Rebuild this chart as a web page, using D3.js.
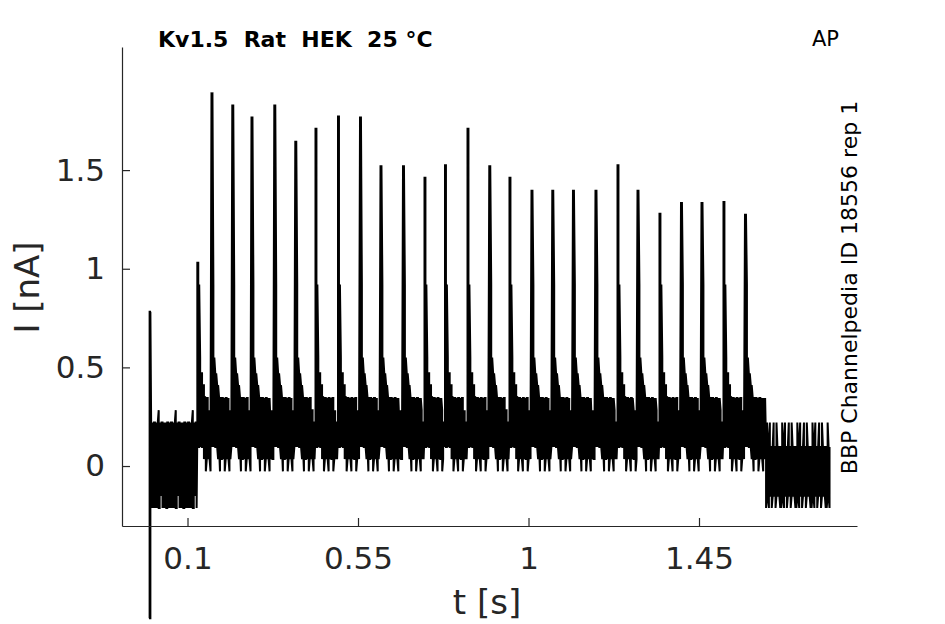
<!DOCTYPE html>
<html><head><meta charset="utf-8">
<script src="https://cdn.jsdelivr.net/npm/d3@7"></script>
<style>
body{margin:0;background:#fff}
svg{display:block;font-family:"DejaVu Sans",sans-serif}
</style>
</head><body>
<svg id="chart" width="945" height="624"></svg>
<script>
// ---------- data ----------
const xTicks = [0.1, 0.55, 1, 1.45];
const xTickLabels = ["0.1", "0.55", "1", "1.45"];
const yTicks = [0, 0.5, 1, 1.5];
const yTickLabels = ["0", "0.5", "1", "1.5"];

// stimulus artefact at t = 0 (nA)
const artefact = [0.782, -0.772];
// stimulus window (s) and end of recording
const stimWindow = [0.1245, 1.627];
const traceEnd = 1.796;

// action-potential-evoked current peaks
const spikeTimes = [0.1259, 0.1633, 0.2182, 0.2689, 0.3291, 0.3845, 0.4378, 0.4972, 0.5553,
  0.6094, 0.6688, 0.7255, 0.7796, 0.8390, 0.8965, 0.9498, 1.0079, 1.0628, 1.1174, 1.1768,
  1.2349, 1.2877, 1.3457, 1.4025, 1.4566, 1.5146, 1.5714];
const spikePeaks = [1.03, 1.894, 1.833, 1.772, 1.833, 1.649, 1.710, 1.772, 1.772,
  1.524, 1.524, 1.461, 1.524, 1.710, 1.524, 1.461, 1.400, 1.400, 1.400, 1.400,
  1.524, 1.400, 1.279, 1.338, 1.338, 1.338, 1.279];
// decay right after each peak (nA, 2.5 ms steps)
const spikeTail = [0.92, 0.55, 0.47, 0.47, 0.41, 0.41, 0.35];

// quantised recording levels: value = 0.035 + 0.062 * code
// pre-stimulus noise band (codes, 2.5 ms steps)
const preHi = [3, 3, 1, 3, 3, 3, 1, 3, 4, 3, 1, 3, 3, 2, 3, 3, 1, 3];
const preLo = [-4, -3, -4, -3, -4, -2, -4, -3, -4, -4, -3, -2, -4, -3, -4, -3, -4, -4];
// noise band between spikes (codes, 2.5 ms steps after each peak)
const stimHi = [9, 9, 9, 9, 9, 9, 9, 9, 5, 5, 5, 5, 5, 3, 5, 5, 5, 4, 5, 5, 3, 5, 5, 4, 5, 5];
const stimLo = [1, 1, 1, 2, 1, 1, 1, 0, 1, -1, 0, 0, 1, 0, -1, 0, 1, 0, 0, -1, 0, 1, 0, 0, -1, 0];
// just before the next peak
const preSpikeHi = [4, 3, 3];
// post-stimulus noise band (codes)
const postHi = [1, 3, 1, 1, 3, 1, 1, 1, 3, 1, 1, 3, 1, 1, 1, 1];
const postLo = [-4, -3, -3, -4, -3, -3, -4, -3, -3, -3, -4, -3, -3, -3, -3, -4];

// ---------- build trace ----------
const STEP = 0.0025, Q = 0.062, OFF = 0.035;
const lvl = k => OFF + Q * k;
const cols = [];
[0, 0.001, 0.002].forEach(t => cols.push({t, lo: artefact[1], hi: artefact[0]}));
{
  let i = 0;
  for (let t = 0.004; t < spikeTimes[0] - 1e-9; t += STEP, i++) {
    cols.push({t, lo: lvl(preLo[i % preLo.length]), hi: lvl(preHi[i % preHi.length])});
  }
}
spikeTimes.forEach((s, j) => {
  const end = j < spikeTimes.length - 1 ? spikeTimes[j + 1] : stimWindow[1];
  const n = Math.round((end - s) / STEP);
  const last = j < spikeTimes.length - 1;
  for (let r = 0; r < n; r++) {
    const t = s + r * (end - s) / n;
    let hi, lo;
    const idx = r < stimHi.length ? r : 8 + ((r - 8) % (stimHi.length - 8));
    lo = lvl(stimLo[idx]);
    if (r <= 1) hi = spikePeaks[j];
    else if (r - 2 < spikeTail.length) hi = spikeTail[r - 2];
    else if (last && r >= n - preSpikeHi.length) hi = lvl(preSpikeHi[r - (n - preSpikeHi.length)]);
    else hi = lvl(stimHi[idx]);
    if (r === 0) lo = lvl(2);
    cols.push({t, lo, hi});
  }
});
{
  let i = 0;
  for (let t = stimWindow[1]; t <= traceEnd; t += STEP, i++) {
    cols.push({t, lo: lvl(postLo[i % postLo.length]), hi: lvl(postHi[i % postHi.length])});
  }
}
const pts = [];
cols.forEach((c, i) => {
  if (i % 2 === 0) { pts.push([c.t, c.lo]); pts.push([c.t, c.hi]); }
  else { pts.push([c.t, c.hi]); pts.push([c.t, c.lo]); }
});

// ---------- draw ----------
const svg = d3.select("#chart");
const x = d3.scaleLinear().domain([-0.0729, 1.867]).range([122, 857]);
const y = d3.scaleLinear().domain([-0.304, 2.124]).range([526, 47]);
const ink = "#262626";

svg.append("path")
  .attr("d", d3.line().x(d => x(d[0])).y(d => y(d[1]))(pts))
  .attr("fill", "none").attr("stroke", "#000").attr("stroke-width", 2)
  .attr("stroke-linejoin", "miter");

const xAxis = svg.append("g").attr("transform", "translate(0,526)")
  .call(d3.axisBottom(x).tickValues(xTicks).tickFormat((d, i) => xTickLabels[i])
    .tickSizeInner(-8).tickSizeOuter(0).tickPadding(21));
const yAxis = svg.append("g").attr("transform", "translate(122,0)")
  .call(d3.axisLeft(y).tickValues(yTicks).tickFormat((d, i) => yTickLabels[i])
    .tickSizeInner(-8).tickSizeOuter(0).tickPadding(17));
[xAxis, yAxis].forEach(g => {
  g.select(".domain").attr("stroke", ink).attr("stroke-width", 1.2);
  g.selectAll(".tick line").attr("stroke", ink).attr("stroke-width", 1.2);
  g.selectAll(".tick text").attr("fill", ink).style("font-size", "31px")
    .style("font-family", "DejaVu Sans");
});

svg.append("text").attr("x", 487).attr("y", 614).attr("text-anchor", "middle")
  .attr("fill", ink).style("font-size", "34px").text("t [s]");
svg.append("text").attr("transform", "translate(38.5,287.5) rotate(-90)")
  .attr("text-anchor", "middle").attr("fill", ink).style("font-size", "34px").text("I [nA]");

svg.append("text").attr("x", 158).attr("y", 46.5).attr("fill", "#000")
  .style("font-size", "22px").style("font-weight", "bold").style("white-space", "pre")
  .text("Kv1.5  Rat  HEK  25 °C");
svg.append("text").attr("x", 839).attr("y", 46).attr("text-anchor", "end")
  .attr("fill", "#000").style("font-size", "21px").text("AP");
svg.append("text").attr("transform", "translate(857,287.5) rotate(-90)")
  .attr("text-anchor", "middle").attr("fill", "#000").style("font-size", "22px")
  .text("BBP Channelpedia ID 18556 rep 1");
</script>
</body></html>
